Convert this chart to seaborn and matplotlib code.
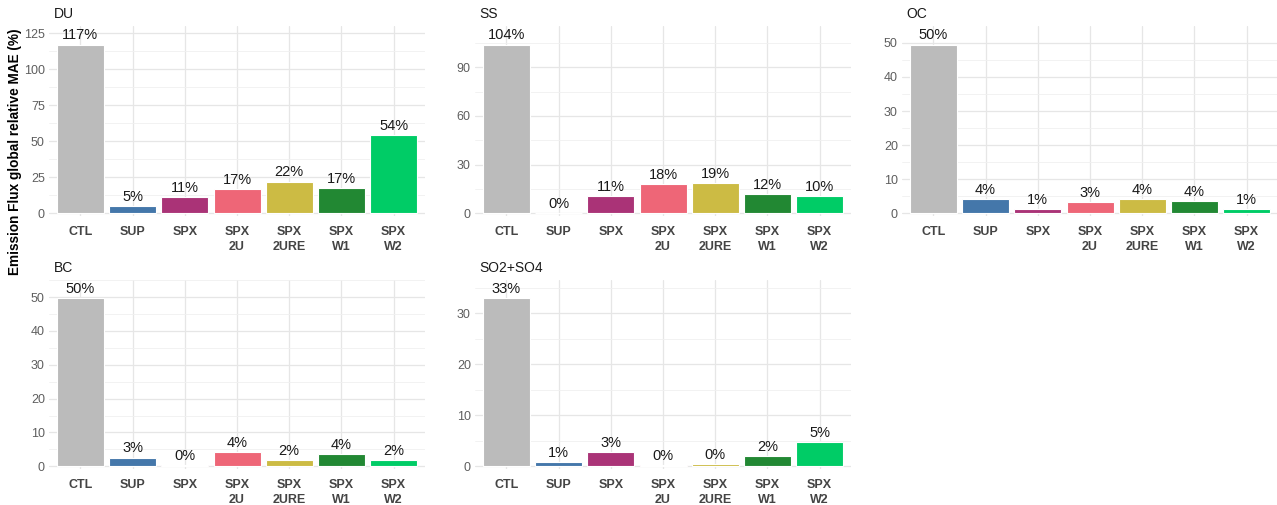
import numpy as np
import pandas as pd
import matplotlib
matplotlib.use("Agg")
import matplotlib.pyplot as plt
import seaborn as sns
from matplotlib.ticker import MultipleLocator

# ---- data ----
categories = ["CTL", "SUP", "SPX", "SPX\n2U", "SPX\n2URE", "SPX\nW1", "SPX\nW2"]
du = [117.0, 4.8, 11.2, 17.1, 22.0, 17.2, 54.0]
ss = [104.0, 0.3, 10.9, 18.0, 18.8, 11.6, 10.4]
oc = [49.5, 4.2, 1.2, 3.2, 4.2, 3.6, 1.3]
bc = [49.6, 2.6, 0.3, 4.2, 1.9, 3.5, 1.8]
so = [32.9, 0.9, 2.8, 0.2, 0.4, 2.1, 4.7]
panel_names = ["DU", "SS", "OC", "BC", "SO2+SO4"]
panel_values = [du, ss, oc, bc, so]
major_steps = [25, 30, 10, 10, 10]
colors = ["#BBBBBB", "#4477AA", "#AA3377", "#EE6677", "#CCBB44", "#228833", "#00CC66"]
ylabel = "Emission Flux global relative MAE (%)"

sns.set_theme(style="white")
plt.rcParams["font.family"] = ["Liberation Sans", "DejaVu Sans"]

W, H = 1277, 505
fig = plt.figure(figsize=(W / 100, H / 100), dpi=100)

col_left = [49, 475, 902]
col_w = 376
rows = [(26, 216), (280, 469)]  # (top px, bottom px)

palette = dict(zip(categories, colors))

for i, (name, vals) in enumerate(zip(panel_names, panel_values)):
    r, c = divmod(i, 3)
    top, bot = rows[r]
    ax = fig.add_axes([col_left[c] / W, 1 - bot / H, col_w / W, (bot - top) / H])
    df = pd.DataFrame({"cat": categories, "val": vals})
    sns.barplot(data=df, x="cat", y="val", hue="cat", palette=palette,
                order=categories, hue_order=categories, legend=False,
                width=0.9, saturation=1, edgecolor="white", linewidth=0.8,
                ax=ax, zorder=3)
    m = max(vals)
    ax.set_ylim(-0.016 * m, 1.11 * m)
    ax.set_xlim(-0.6, len(categories) - 0.4)
    step = major_steps[i]
    ax.yaxis.set_major_locator(MultipleLocator(step))
    ax.yaxis.set_minor_locator(MultipleLocator(step / 2))
    ax.grid(which="major", axis="both", color="#E6E6E6", linewidth=0.9, zorder=0)
    ax.grid(which="minor", axis="y", color="#F0F0F0", linewidth=0.6, zorder=0)
    ax.set_axisbelow(True)
    for s in ax.spines.values():
        s.set_visible(False)
    ax.tick_params(axis="both", which="both", length=0)
    ax.tick_params(axis="y", labelsize=9, labelcolor="#5E5E5E", pad=3)
    ax.tick_params(axis="x", labelsize=9, labelcolor="#444444", pad=7)
    for lab in ax.get_xticklabels():
        lab.set_fontweight("bold")
        lab.set_linespacing(1.35)
    ax.set_xlabel("")
    ax.set_ylabel("")
    for j, v in enumerate(vals):
        ax.annotate(f"{int(round(v))}%", (j, v), xytext=(0, 1.5),
                    textcoords="offset points", ha="center", va="bottom",
                    fontsize=10.5, color="#1A1A1A")
    ax.text(0.012, 1.025, name, transform=ax.transAxes, ha="left", va="bottom",
            fontsize=10, color="#1A1A1A")

fig.text(15 / W, 1 - 152 / H, ylabel, rotation=90, ha="center", va="center",
         fontsize=9.8, fontweight="bold", color="black")

fig.savefig("out.png", dpi=100)
